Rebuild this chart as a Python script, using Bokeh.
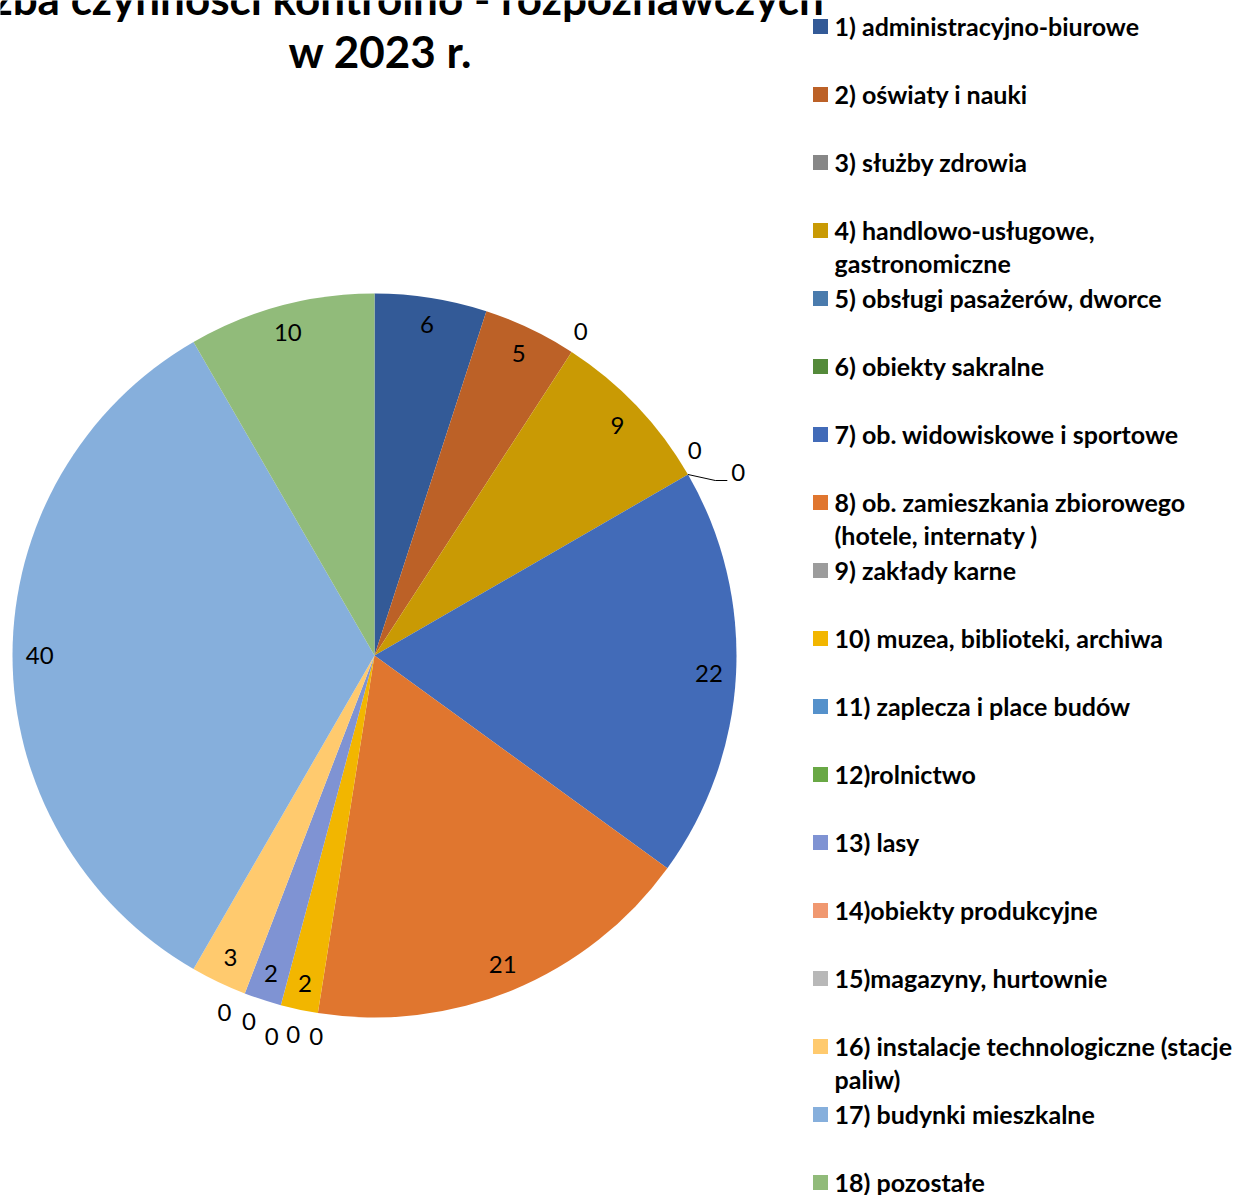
import numpy as np
from bokeh.plotting import figure
from bokeh.models import Range1d, ColumnDataSource
from bokeh.core.properties import value
from bokeh.embed import file_html
from bokeh.resources import INLINE

# ---------------- data ----------------
title_lines = ["Liczba czynności kontrolno - rozpoznawczych", "w 2023 r."]

categories = [
    " 1) administracyjno-biurowe",
    " 2) oświaty i nauki",
    " 3) służby zdrowia",
    " 4) handlowo-usługowe,\ngastronomiczne",
    " 5) obsługi pasażerów, dworce",
    " 6) obiekty sakralne",
    " 7) ob. widowiskowe i sportowe",
    " 8) ob. zamieszkania zbiorowego\n(hotele, internaty )",
    " 9) zakłady karne",
    "10) muzea, biblioteki, archiwa",
    "11) zaplecza i place budów",
    "12)rolnictwo",
    "13) lasy",
    "14)obiekty produkcyjne",
    "15)magazyny, hurtownie",
    "16) instalacje technologiczne (stacje\npaliw)",
    "17) budynki mieszkalne",
    "18) pozostałe",
]
values = [6, 5, 0, 9, 0, 0, 22, 21, 0, 2, 0, 0, 2, 0, 0, 3, 40, 10]

# ---------------- styles / layout ----------------
colors = [
    "#335A97", "#BC6127", "#878787", "#C99A04", "#4A7BAD", "#548A3A",
    "#426BB8", "#E0762F", "#9C9C9C", "#F2B600", "#5591CB", "#69A845",
    "#7F93D3", "#F09870", "#B8B8B8", "#FFCA6E", "#86AFDC", "#91BB7A",
]
# label placement tweaks for zero-value points: (angle offset deg, radius factor)
zero_label_layout = {
    2: (-0.5, 1.06), 4: (-2.6, 1.05), 5: (3.3, 1.125), 8: (-0.3, 1.065),
    10: (-2.9, 1.07), 11: (0.1, 1.09), 13: (-2.1, 1.07), 14: (1.8, 1.07),
}
leader_for = [5]

W, H = 1237, 1195
def Y(y_ref):
    return H - y_ref

CX, CY, R = 374.0, Y(655), 362.0
INSIDE = 0.925

p = figure(width=W, height=H, output_backend="svg", toolbar_location=None,
           x_range=Range1d(0, W), y_range=Range1d(0, H),
           min_border=0, x_axis_location=None, y_axis_location=None)
p.grid.visible = False
p.outline_line_color = None
p.background_fill_color = "white"
p.border_fill_color = "white"

vals = np.array(values, dtype=float)
total = vals.sum()
cum = np.concatenate([[0.0], np.cumsum(vals)])
frac0 = cum[:-1] / total
frac1 = cum[1:] / total
start = np.pi / 2 - 2 * np.pi * frac0
end = np.pi / 2 - 2 * np.pi * frac1

nz = vals > 0
wsrc = ColumnDataSource(dict(start=start[nz], end=end[nz],
                             color=[c for c, k in zip(colors, nz) if k]))
p.wedge(x=CX, y=CY, radius=R, start_angle="start", end_angle="end",
        direction="clock", fill_color="color", line_color=None, source=wsrc)

# data labels
mid_deg = 360 * (frac0 + frac1) / 2  # clockwise from top
lx, ly = [], []
for i, v in enumerate(values):
    off, rf = (0.0, INSIDE) if v > 0 else zero_label_layout.get(i, (0.0, 1.07))
    th = np.radians(mid_deg[i] + off)
    lx.append(CX + rf * R * np.sin(th))
    ly.append(CY + rf * R * np.cos(th))
p.text(x=lx, y=ly, text=[str(v) for v in values], text_align="center",
       text_baseline="middle", text_font=value("Lato"), text_font_size="24px",
       text_color="#000000")

for i in leader_for:
    th = np.radians(mid_deg[i])
    ex, ey = CX + R * np.sin(th), CY + R * np.cos(th)
    p.line(x=[ex, lx[i] - 23, lx[i] - 11], y=[ey, ly[i] - 8, ly[i] - 8],
           line_color="#000000", line_width=1)

# title
p.text(x=[380, 380], y=[Y(-3), Y(50)], text=title_lines, text_align="center",
       text_baseline="middle", text_font=value("Lato"), text_font_style="bold",
       text_font_size="44px", text_color="#000000")

# legend
sq_y = [Y(26 + 68 * i) for i in range(len(categories))]
p.rect(x=[820] * len(categories), y=sq_y, width=15, height=15,
       fill_color=colors, line_color=None)
tx, ty, tt = [], [], []
for i, lab in enumerate(categories):
    for j, line in enumerate(lab.split("\n")):
        tx.append(834)
        ty.append(Y(25 + 68 * i + 33 * j))
        tt.append(line)
p.text(x=tx, y=ty, text=tt, text_align="left", text_baseline="middle",
       text_font=value("Lato"), text_font_style="bold", text_font_size="25px",
       text_color="#000000")

open("out.html", "w").write(file_html(p, INLINE))
